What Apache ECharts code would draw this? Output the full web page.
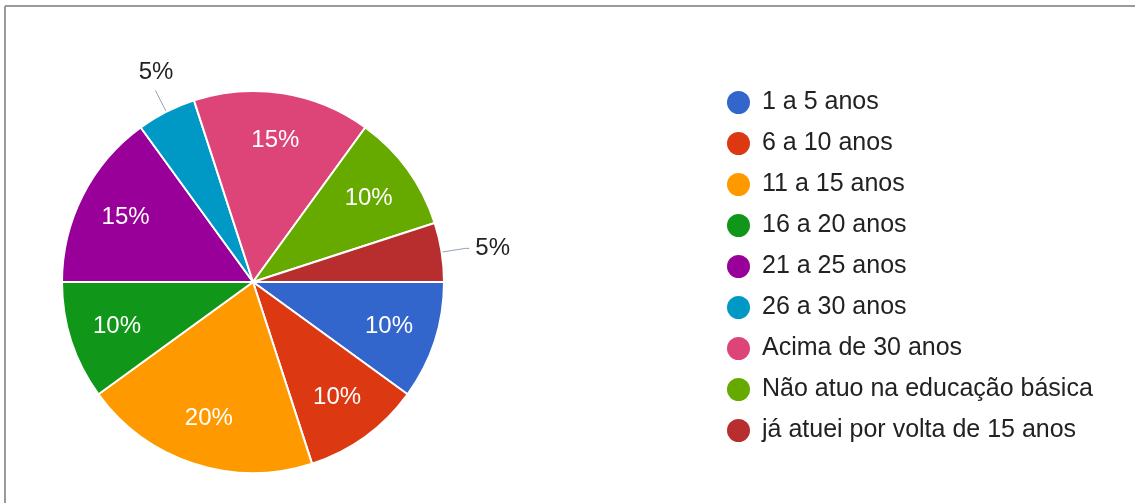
<!DOCTYPE html>
<html>
<head>
<meta charset="utf-8">
<script src="https://cdn.jsdelivr.net/npm/echarts@6/dist/echarts.min.js"></script>
<style>
  html, body { margin: 0; padding: 0; background: #fff; }
  #chart { width: 1135px; height: 503px; }
</style>
</head>
<body>
<div id="chart"></div>
<script>
// faixas de tempo de atuação
var categories = ['1 a 5 anos', '6 a 10 anos', '11 a 15 anos', '16 a 20 anos', '21 a 25 anos',
                  '26 a 30 anos', 'Acima de 30 anos', 'Não atuo na educação básica', 'já atuei por volta de 15 anos'];
var values = [10, 10, 20, 10, 15, 5, 15, 10, 5];
var colors = ['#3366cc', '#dc3912', '#ff9900', '#109618', '#990099', '#0099c6', '#dd4477', '#66aa00', '#b82e2e'];

var chart = echarts.init(document.getElementById('chart'));

var fontFam = '"Liberation Sans", Arial, sans-serif';
var center = [253, 282];

// small slices get the label outside, like the original
var mainData = [];
var labelData = [];
for (var i = 0; i < categories.length; i++) {
  var small = values[i] < 8;
  mainData.push({
    name: categories[i],
    value: values[i],
    itemStyle: { color: colors[i] },
    label: { show: small },
    labelLine: { show: small, length2: i === 5 ? 0 : 4 }
  });
  labelData.push({
    name: categories[i],
    value: values[i],
    label: { show: !small }
  });
}

var option = {
  animation: false,
  graphic: [
    { type: 'line', shape: { x1: 5, y1: 6, x2: 1135, y2: 6 }, style: { stroke: '#9a9a9a', lineWidth: 2 } },
    { type: 'line', shape: { x1: 5, y1: 6, x2: 5, y2: 503 }, style: { stroke: '#9a9a9a', lineWidth: 2 } }
  ],
  legend: {
    orient: 'vertical',
    left: 725,
    top: 89,
    padding: 0,
    icon: 'circle',
    itemWidth: 25,
    itemHeight: 25,
    itemGap: 14,
    data: categories,
    textStyle: {
      fontFamily: fontFam,
      fontSize: 25,
      color: '#222',
      padding: [0, 0, 0, 6]
    }
  },
  series: [
    {
      name: 'main',
      type: 'pie',
      center: center,
      radius: [0, 191],
      startAngle: 0,
      clockwise: true,
      data: mainData,
      itemStyle: { borderColor: '#fff', borderWidth: 2 },
      label: {
        position: 'outside',
        formatter: '{d}%',
        fontFamily: fontFam,
        fontSize: 24,
        color: '#222',
        distanceToLabelLine: 6
      },
      labelLine: {
        length: 24,
        length2: 4,
        lineStyle: { color: '#8fa3c0', width: 1 }
      },
      labelLayout: function (p) {
        // upper outside label sits above the end of its line
        if (p.dataIndex === 5) {
          return { dx: 24, dy: -18, labelLinePoints: p.labelLinePoints };
        }
      },
      emphasis: { disabled: true }
    },
    {
      name: 'labels',
      type: 'pie',
      silent: true,
      center: center,
      radius: [100, 180],
      startAngle: 0,
      clockwise: true,
      data: labelData,
      itemStyle: { color: 'rgba(0,0,0,0)', borderWidth: 0 },
      label: {
        position: 'inside',
        formatter: '{d}%',
        fontFamily: fontFam,
        fontSize: 24,
        color: '#fff'
      },
      labelLine: { show: false },
      emphasis: { disabled: true }
    }
  ]
};

chart.setOption(option);
</script>
</body>
</html>
